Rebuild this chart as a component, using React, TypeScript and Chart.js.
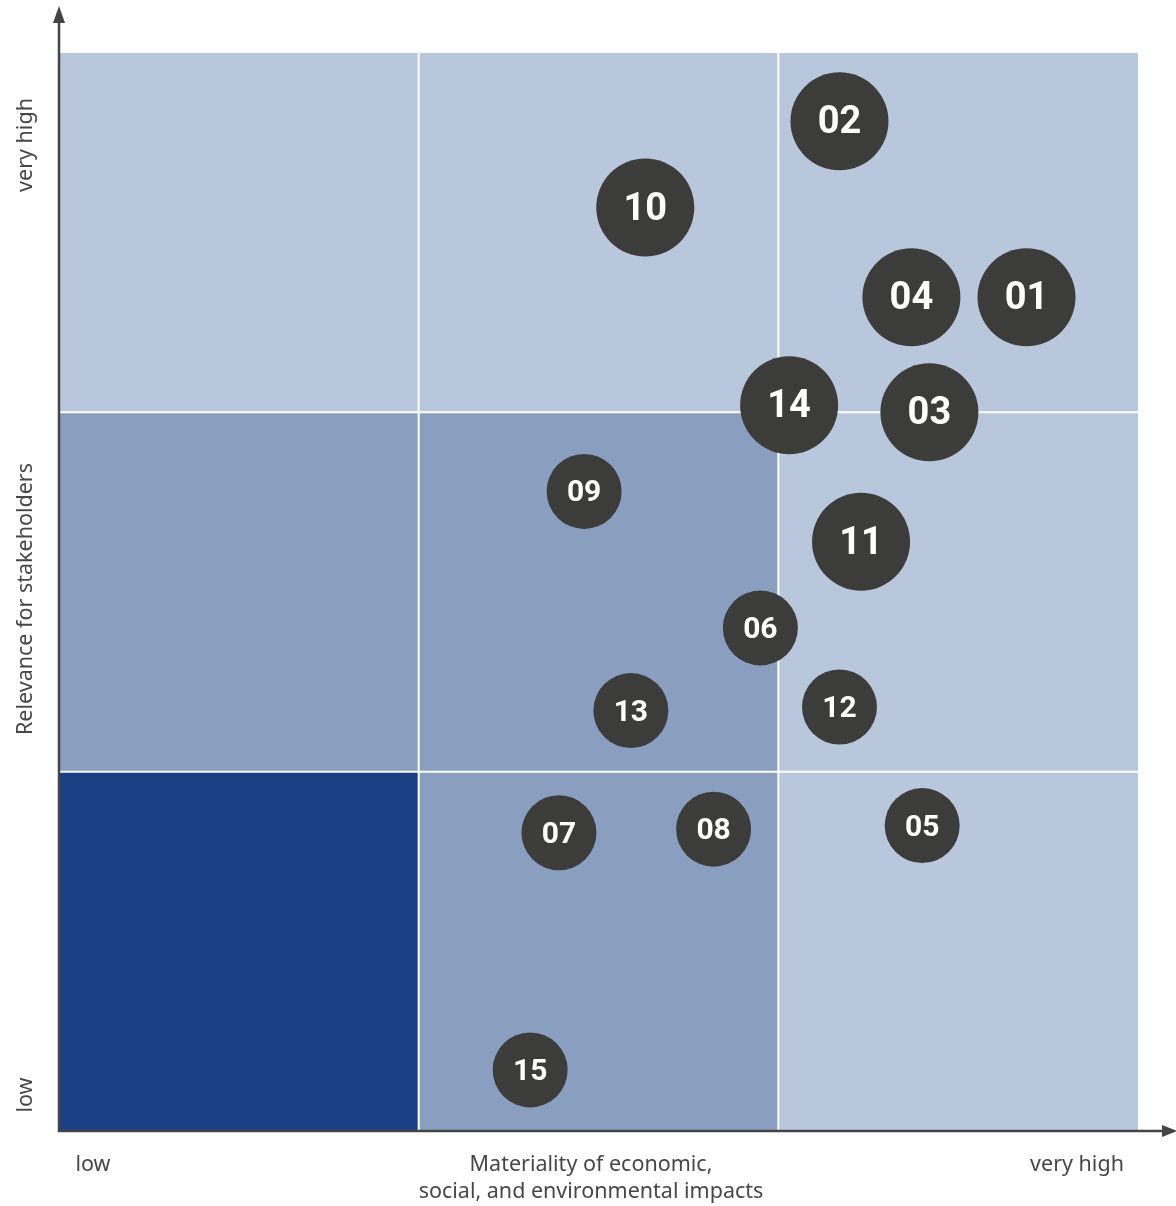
import React, { useEffect, useRef } from "react";
import { Chart, BubbleController, registerables } from "chart.js";

Chart.register(...registerables);

// Bubble controller whose bubbles may sit on the plot edge without shrinking the chart area
class MatrixBubbleController extends BubbleController {
  static id = "matrixBubble";
  static defaults = BubbleController.defaults;
  static overrides = BubbleController.overrides;
  getMaxOverflow() {
    return 0 as any;
  }
}
Chart.register(MatrixBubbleController);

// Topic numbers shown inside the bubbles
const topicIds = ["01", "02", "03", "04", "05", "06", "07", "08", "09", "10", "11", "12", "13", "14", "15"];
// Materiality of economic, social and environmental impacts (0 = low, 3 = very high)
const impactValues = [2.69, 2.17, 2.42, 2.37, 2.40, 1.95, 1.39, 1.82, 1.46, 1.63, 2.23, 2.17, 1.59, 2.03, 1.31];
// Relevance for stakeholders (0 = low, 3 = very high)
const relevanceValues = [2.32, 2.81, 2.00, 2.32, 0.85, 1.40, 0.83, 0.84, 1.78, 2.57, 1.64, 1.18, 1.17, 2.02, 0.17];
// Bubble weight: 2 = major topic, 1 = minor topic
const topicWeights = [2, 2, 2, 2, 1, 1, 1, 1, 1, 2, 2, 1, 1, 2, 1];

// Matrix band levels, rows from bottom (low relevance) to top, columns from low to high impact
const bandLevels = [
  [2, 1, 0],
  [1, 1, 0],
  [0, 0, 0],
];
const bandColors = ["#b9c7dc", "#8a9fc0", "#1b3f83"];

const xAxisLabels = ["low", "Materiality of economic,|social, and environmental impacts", "very high"];
const yAxisLabels = ["low", "Relevance for stakeholders", "very high"];

const AXIS_COLOR = "#444444";
const TEXT_COLOR = "#474747";
const BUBBLE_COLOR = "#3c3c3a";
const LABEL_FONT = "\"Noto Sans\", sans-serif";

const matrixPlugin = {
  id: "matrixBackground",
  beforeDatasetsDraw(chart: any) {
    const { ctx, scales } = chart;
    const xs = scales.x;
    const ys = scales.y;
    ctx.save();
    for (let r = 0; r < 3; r++) {
      for (let c = 0; c < 3; c++) {
        const x0 = xs.getPixelForValue(c);
        const x1 = xs.getPixelForValue(c + 1);
        const y0 = ys.getPixelForValue(r + 1);
        const y1 = ys.getPixelForValue(r);
        ctx.fillStyle = bandColors[bandLevels[r][c]];
        ctx.fillRect(x0, y0, x1 - x0, y1 - y0);
      }
    }
    // white separators between the cells
    ctx.strokeStyle = "#ffffff";
    ctx.lineWidth = 2;
    for (let i = 1; i < 3; i++) {
      const x = xs.getPixelForValue(i);
      ctx.beginPath();
      ctx.moveTo(x, ys.getPixelForValue(3));
      ctx.lineTo(x, ys.getPixelForValue(0));
      ctx.stroke();
      const y = ys.getPixelForValue(i);
      ctx.beginPath();
      ctx.moveTo(xs.getPixelForValue(0), y);
      ctx.lineTo(xs.getPixelForValue(3), y);
      ctx.stroke();
    }

    // axes with arrow heads
    const ox = xs.getPixelForValue(0);
    const oy = ys.getPixelForValue(0);
    ctx.strokeStyle = AXIS_COLOR;
    ctx.fillStyle = AXIS_COLOR;
    ctx.lineWidth = 2.5;
    ctx.beginPath();
    ctx.moveTo(ox, oy + 1);
    ctx.lineTo(ox, 20);
    ctx.stroke();
    ctx.beginPath();
    ctx.moveTo(ox - 1, oy);
    ctx.lineTo(chart.width - 10, oy);
    ctx.stroke();
    ctx.beginPath();
    ctx.moveTo(ox, 6);
    ctx.lineTo(ox - 6, 23);
    ctx.lineTo(ox + 6, 23);
    ctx.closePath();
    ctx.fill();
    ctx.beginPath();
    ctx.moveTo(chart.width + 1, oy);
    ctx.lineTo(chart.width - 14, oy - 6);
    ctx.lineTo(chart.width - 14, oy + 6);
    ctx.closePath();
    ctx.fill();

    // axis labels
    ctx.fillStyle = TEXT_COLOR;
    ctx.font = `21.5px ${LABEL_FONT}`;
    ctx.textBaseline = "middle";
    ctx.textAlign = "center";
    const xPos = [93, 591, 1077];
    xAxisLabels.forEach((lbl, i) => {
      const lines = lbl.split("|");
      lines.forEach((ln, j) => {
        ctx.fillText(ln, xPos[i], 1165 + j * 27);
      });
    });
    const yPos = [1095, 599, 145];
    yAxisLabels.forEach((lbl, i) => {
      ctx.save();
      ctx.translate(26, yPos[i]);
      ctx.rotate(-Math.PI / 2);
      ctx.fillText(lbl, 0, 0);
      ctx.restore();
    });
    ctx.restore();
  },
  afterDatasetsDraw(chart: any) {
    const { ctx } = chart;
    const meta = chart.getDatasetMeta(0);
    ctx.save();
    ctx.fillStyle = "#ffffff";
    ctx.textAlign = "center";
    ctx.textBaseline = "middle";
    meta.data.forEach((pt: any, i: number) => {
      const big = topicWeights[i] === 2;
      ctx.font = `bold ${big ? 38 : 30}px Roboto, sans-serif`;
      ctx.fillText(topicIds[i], pt.x, pt.y + 2.5);
    });
    ctx.restore();
  },
};

export default function App() {
  const canvasRef = useRef<HTMLCanvasElement | null>(null);

  useEffect(() => {
    if (!canvasRef.current) return;
    const data = topicIds.map((_, i) => ({
      x: impactValues[i],
      y: relevanceValues[i],
      r: topicWeights[i] === 2 ? 49 : 37.5,
    }));
    const chart = new Chart(canvasRef.current, {
      type: "matrixBubble" as any,
      data: {
        datasets: [
          {
            data,
            backgroundColor: BUBBLE_COLOR,
            borderWidth: 0,
            hoverRadius: 0,
            clip: false as any,
          },
        ],
      },
      options: {
        responsive: false,
        animation: false,
        layout: { padding: { left: 59, top: 53, right: 38, bottom: 75 } },
        plugins: { legend: { display: false }, tooltip: { enabled: false } },
        events: [],
        scales: {
          x: { type: "linear", min: 0, max: 3, display: false },
          y: { type: "linear", min: 0, max: 3, display: false },
        },
      } as any,
      plugins: [matrixPlugin],
    });
    return () => chart.destroy();
  }, []);

  return (
    <div style={{ position: "absolute", left: 0, top: 0, width: 1176, height: 1206, background: "#ffffff" }}>
      <canvas ref={canvasRef} width={1176} height={1206} style={{ display: "block" }} />
    </div>
  );
}
